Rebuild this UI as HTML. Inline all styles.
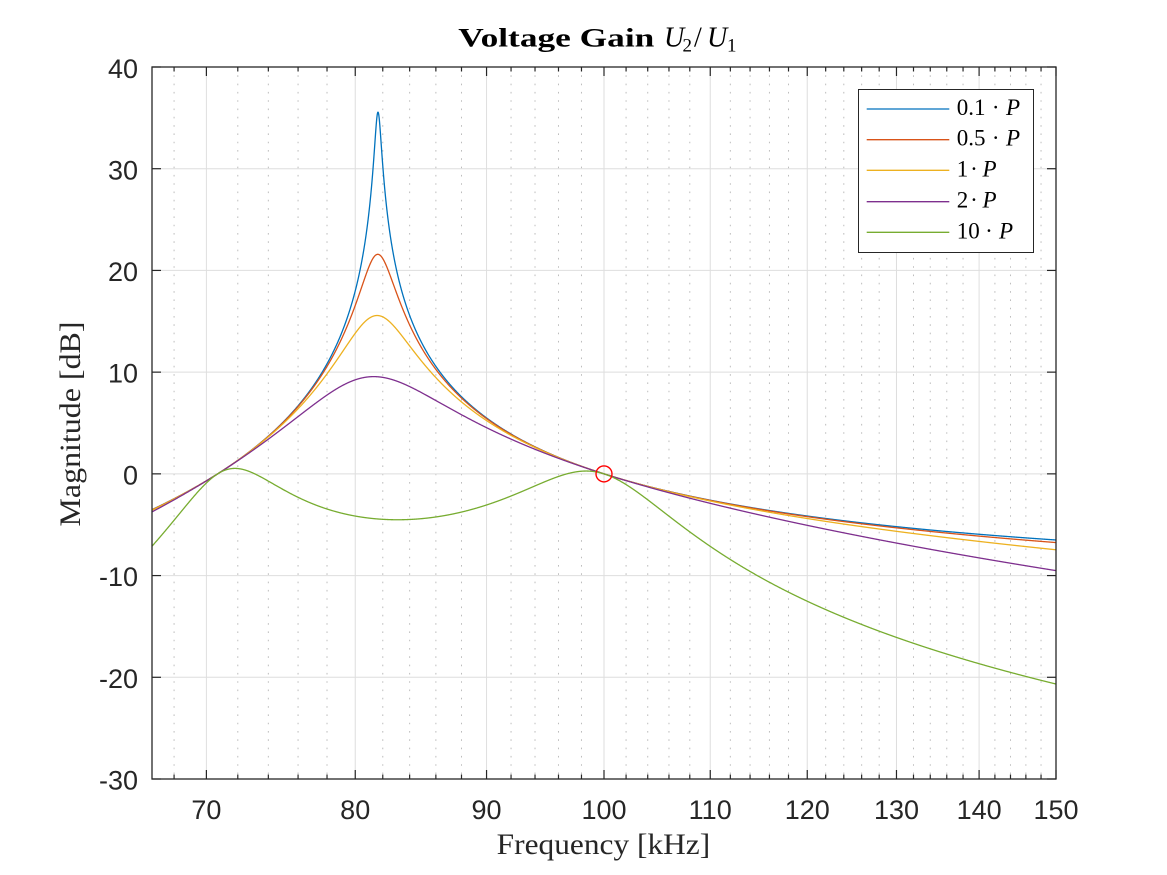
<!DOCTYPE html>
<html>
<head>
<meta charset="utf-8">
<style>
  html,body{margin:0;padding:0;background:#fff;}
  svg{display:block;}
  .tick{font-family:"Liberation Sans",Arial,sans-serif;font-size:27px;fill:#262626;}
  .serif{font-family:"Liberation Serif","Times New Roman",serif;fill:#262626;}
</style>
</head>
<body>
<svg id="chart" width="1167" height="875" viewBox="0 0 1167 875" xmlns="http://www.w3.org/2000/svg">
  <rect x="0" y="0" width="1167" height="875" fill="#ffffff"/>
  <defs>
    <clipPath id="clip"><rect x="152" y="67" width="904" height="712"/></clipPath>
  </defs>
  <rect x="152" y="67" width="904" height="712" fill="#ffffff"/>
  <g id="grid" clip-path="url(#clip)"></g>
  <g id="curves" clip-path="url(#clip)" fill="none" stroke-width="1.3" stroke-linejoin="round"></g>
  <circle cx="604" cy="473.9" r="8" fill="none" stroke="#ff0000" stroke-width="1.4"/>
  <g id="axes"></g>

  <!-- Y tick labels -->
  <g class="tick" text-anchor="end">
    <text x="138" y="78">40</text>
    <text x="138" y="179.5">30</text>
    <text x="138" y="281">20</text>
    <text x="138" y="382.5">10</text>
    <text x="138" y="484.5">0</text>
    <text x="138" y="586">-10</text>
    <text x="138" y="688">-20</text>
    <text x="138" y="789.5">-30</text>
  </g>
  <!-- X tick labels -->
  <g class="tick" text-anchor="middle">
    <text x="206.4" y="819">70</text>
    <text x="355.2" y="819">80</text>
    <text x="486.5" y="819">90</text>
    <text x="604" y="819">100</text>
    <text x="710.2" y="819">110</text>
    <text x="807.3" y="819">120</text>
    <text x="896.5" y="819">130</text>
    <text x="979.1" y="819">140</text>
    <text x="1056" y="819">150</text>
  </g>

  <!-- Axis labels -->
  <text class="serif" x="496.7" y="854" font-size="30" textLength="213.5" lengthAdjust="spacingAndGlyphs">Frequency [kHz]</text>
  <text class="serif" transform="translate(80,424) rotate(-90)" text-anchor="middle" font-size="30" textLength="205" lengthAdjust="spacingAndGlyphs">Magnitude [dB]</text>

  <!-- Title -->
  <g class="serif" fill="#000">
    <text x="458.3" y="46.7" font-size="26" font-weight="bold" textLength="196" lengthAdjust="spacingAndGlyphs" fill="#000">Voltage Gain</text>
    <text x="664" y="46.7" font-size="28" font-style="italic" fill="#000">U</text>
    <text x="682.5" y="51.5" font-size="19" fill="#000">2</text>
    <text x="694" y="46.7" font-size="28" fill="#000">/</text>
    <text x="707" y="46.7" font-size="28" font-style="italic" fill="#000">U</text>
    <text x="727" y="51.5" font-size="19" fill="#000">1</text>
  </g>

  <!-- Legend -->
  <g>
    <rect x="858.5" y="89.5" width="175" height="163" fill="#ffffff" stroke="#262626" stroke-width="1"/>
    <line x1="866.7" y1="109" x2="949.3" y2="109" stroke="#0072BD" stroke-width="1.3"/>
    <line x1="866.7" y1="139.7" x2="949.3" y2="139.7" stroke="#D95319" stroke-width="1.3"/>
    <line x1="866.7" y1="170.3" x2="949.3" y2="170.3" stroke="#EDB120" stroke-width="1.3"/>
    <line x1="866.7" y1="201.7" x2="949.3" y2="201.7" stroke="#7E2F8E" stroke-width="1.3"/>
    <line x1="866.7" y1="232.3" x2="949.3" y2="232.3" stroke="#77AC30" stroke-width="1.3"/>
    <g class="serif" font-size="23" fill="#000">
      <text x="956.7" y="115" fill="#000">0.1</text>
      <text x="995.7" y="115" text-anchor="middle" fill="#000">·</text>
      <text x="1006" y="115" font-style="italic" fill="#000">P</text>

      <text x="956.7" y="145.7" fill="#000">0.5</text>
      <text x="995.7" y="145.7" text-anchor="middle" fill="#000">·</text>
      <text x="1006" y="145.7" font-style="italic" fill="#000">P</text>

      <text x="956.7" y="176.3" fill="#000">1</text>
      <text x="974" y="176.3" text-anchor="middle" fill="#000">·</text>
      <text x="982.5" y="176.3" font-style="italic" fill="#000">P</text>

      <text x="956.7" y="207.7" fill="#000">2</text>
      <text x="974" y="207.7" text-anchor="middle" fill="#000">·</text>
      <text x="982.5" y="207.7" font-style="italic" fill="#000">P</text>

      <text x="956.7" y="238.3" fill="#000">10</text>
      <text x="989" y="238.3" text-anchor="middle" fill="#000">·</text>
      <text x="999" y="238.3" font-style="italic" fill="#000">P</text>
    </g>
  </g>
</svg>
<script>
(function(){
  var NS="http://www.w3.org/2000/svg";
  var L=152,R=1056,T=67,B=779;
  var FMIN=200/3, LSPAN=Math.log10(2.25);
  function X(f){return L+(R-L)*Math.log10(f/FMIN)/LSPAN;}
  function Y(d){return T+(40-d)*(B-T)/70;}
  function el(tag,attrs,parent){var e=document.createElementNS(NS,tag);for(var k in attrs)e.setAttribute(k,attrs[k]);parent.appendChild(e);return e;}
  var grid=document.getElementById('grid'), axes=document.getElementById('axes'), curves=document.getElementById('curves');

  // minor grid (every 2 kHz)
  for(var f=68; f<150; f+=2){
    if(f%10===0) continue;
    var x=X(f).toFixed(2);
    el('line',{x1:x,y1:T,x2:x,y2:B,stroke:'#bdbdbd','stroke-width':1,'stroke-dasharray':'1.6 6.7'},grid);
  }
  // major grid x
  for(var f=70; f<150; f+=10){
    var x=X(f).toFixed(2);
    el('line',{x1:x,y1:T,x2:x,y2:B,stroke:'#dedede','stroke-width':1},grid);
  }
  // major grid y
  for(var d=-20; d<=30; d+=10){
    var y=Y(d).toFixed(2);
    el('line',{x1:L,y1:y,x2:R,y2:y,stroke:'#dedede','stroke-width':1},grid);
  }

  // curves
  var k=1/3, f0=100*Math.sqrt(2/3);
  var rs=[20,4,2,1,0.2];
  var cols=['#0072BD','#D95319','#EDB120','#7E2F8E','#77AC30'];
  var N=4000, fs=[];
  for(var i=0;i<=N;i++){fs.push(FMIN*Math.pow(2.25,i/N));}
  fs.push(f0); fs.sort(function(a,b){return a-b;});
  for(var c=0;c<rs.length;c++){
    var r=rs[c], pts=[];
    for(var i=0;i<fs.length;i++){
      var f=fs[i], w=f/f0, u=1-1/(w*w);
      var a=w*(k*k-u*u)/r;
      var den=a*a+u*u;
      var dB=10*Math.log10(k*k/den);
      pts.push(X(f).toFixed(2)+','+Y(dB).toFixed(2));
    }
    el('path',{d:'M'+pts.join('L'),stroke:cols[c]},curves);
  }

  // ticks
  var tc='#262626';
  for(var f=68; f<=150; f+=2){
    var major=(f%10===0);
    var len=major?9:4.5;
    var x=X(f).toFixed(2);
    el('line',{x1:x,y1:B,x2:x,y2:B-len,stroke:tc,'stroke-width':1.2},axes);
    el('line',{x1:x,y1:T,x2:x,y2:T+len,stroke:tc,'stroke-width':1.2},axes);
  }
  for(var d=-30; d<=40; d+=10){
    var y=Y(d).toFixed(2);
    el('line',{x1:L,y1:y,x2:L+9,y2:y,stroke:tc,'stroke-width':1.2},axes);
    el('line',{x1:R,y1:y,x2:R-9,y2:y,stroke:tc,'stroke-width':1.2},axes);
  }
  // box
  el('rect',{x:L,y:T,width:R-L,height:B-T,fill:'none',stroke:tc,'stroke-width':1.3},axes);
})();
</script>
</body>
</html>
